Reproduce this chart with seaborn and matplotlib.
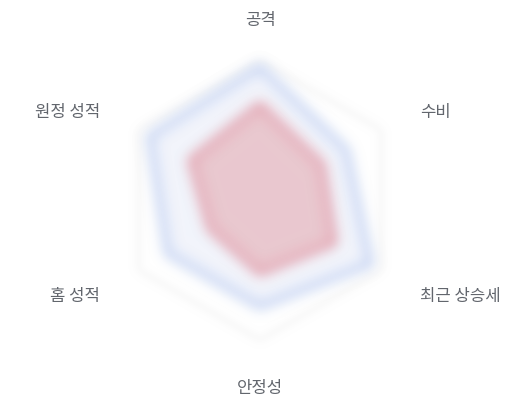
import numpy as np
import pandas as pd
import seaborn as sns
import matplotlib
matplotlib.use("Agg")
import matplotlib.pyplot as plt

# -------- data --------
categories = ["공격", "수비", "최근 상승세", "안정성", "홈 성적", "원정 성적"]
team_a = [95, 71, 91, 76, 76, 91]   # blue, outer
team_b = [68, 51, 61, 52, 41, 57]   # red, inner
grid_levels = [100]

# label placement in pixels (x, y from top-left) and alignment
label_pos = [(260, 20, "center"), (420, 113, "left"), (420, 297, "left"),
             (260, 389, "center"), (100, 297, "right"), (100, 113, "right")]

W, H = 520, 400
CX, CY, R = 260, 200, 140


def soft(sigma):
    # gaussian blur for agg_filter (premultiplied so edges don't wash out)
    pad = int(3 * sigma)
    xs = np.arange(-pad, pad + 1)
    k = np.exp(-0.5 * (xs / sigma) ** 2)
    k /= k.sum()

    def f(img, dpi):
        img = np.pad(img, ((pad, pad), (pad, pad), (0, 0)))
        a = img[..., 3:4]
        pm = np.concatenate([img[..., :3] * a, a], axis=2)
        tmp = np.zeros_like(pm)
        for i, w in zip(xs, k):
            tmp += w * np.roll(pm, i, axis=0)
        out = np.zeros_like(pm)
        for i, w in zip(xs, k):
            out += w * np.roll(tmp, i, axis=1)
        alpha = out[..., 3:4]
        rgb = np.where(alpha > 1e-6, out[..., :3] / np.maximum(alpha, 1e-6), 1.0)
        return np.concatenate([np.clip(rgb, 0, 1), alpha], axis=2), -pad, -pad
    return f


sns.set_theme(style="white")
plt.rcParams["font.family"] = ["Noto Sans CJK KR", "DejaVu Sans"]

fig = plt.figure(figsize=(W / 100, H / 100), dpi=100)
ax = fig.add_axes([(CX - R) / W, (H - CY - R) / H, 2 * R / W, 2 * R / H],
                  projection="polar")
ax.set_theta_zero_location("N")
ax.set_theta_direction(-1)

theta = np.linspace(0, 2 * np.pi, len(categories), endpoint=False)
closed = np.append(theta, theta[0])

df = pd.DataFrame({
    "theta": np.tile(closed, 2),
    "value": team_a + team_a[:1] + team_b + team_b[:1],
    "team": ["A"] * (len(categories) + 1) + ["B"] * (len(categories) + 1),
})

# faint outer web
for lvl in grid_levels:
    g, = ax.plot(closed, [lvl] * len(closed), color="#e4e4e4", lw=1.2)
    g.set_agg_filter(soft(4))

fa = ax.fill(closed, team_a + team_a[:1], color="#6e87dc", alpha=0.09, lw=0)
fb = ax.fill(closed, team_b + team_b[:1], color="#dc6e76", alpha=0.33, lw=0)
for p in fa + fb:
    p.set_agg_filter(soft(6))

n0 = len(ax.lines)
sns.lineplot(data=df, x="theta", y="value", hue="team", sort=False,
             estimator=None, palette={"A": "#98b2ea", "B": "#dc7485"},
             lw=3, legend=False, ax=ax)
for ln in ax.lines[n0:]:
    ln.set_agg_filter(soft(6.5))

ax.set_ylim(0, 100)
ax.set_xticks([])
ax.set_yticks([])
ax.grid(False)
ax.spines["polar"].set_visible(False)
ax.set_xlabel("")
ax.set_ylabel("")
ax.patch.set_alpha(0)

for name, (px, py, ha) in zip(categories, label_pos):
    fig.text(px / W, 1 - py / H, name, ha=ha, va="center",
             fontsize=12, color="#62666d")

fig.savefig("out.png", dpi=100, facecolor="white")
